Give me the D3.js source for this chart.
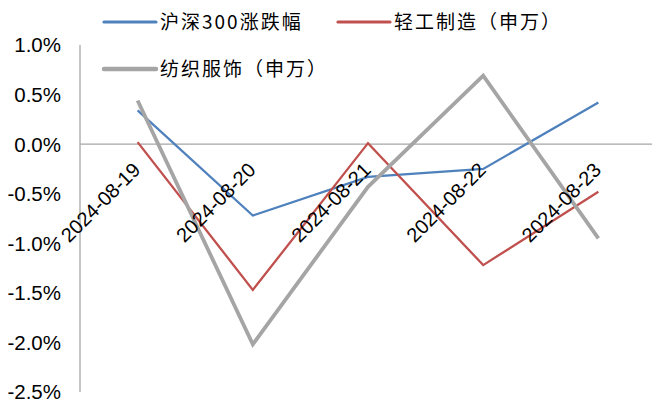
<!DOCTYPE html>
<html>
<head>
<meta charset="utf-8">
<script src="https://cdn.jsdelivr.net/npm/d3@7"></script>
<style>
  body { margin: 0; background: #fff; }
  svg { display: block; }
</style>
</head>
<body>
<script>
// data
var dates = ["2024-08-19", "2024-08-20", "2024-08-21", "2024-08-22", "2024-08-23"];
var hs300 = [0.34, -0.72, -0.33, -0.25, 0.42];
var qinggong = [0.02, -1.47, 0.01, -1.22, -0.48];
var fangzhi = [0.44, -2.02, -0.43, 0.69, -0.95];
var yTicks = [1.0, 0.5, 0.0, -0.5, -1.0, -1.5, -2.0, -2.5];

var series = [
  {name: "沪深300涨跌幅", values: hs300, color: "#4f81bd", width: 2.3},
  {name: "轻工制造（申万）", values: qinggong, color: "#c0504d", width: 2.3},
  {name: "纺织服饰（申万）", values: fangzhi, color: "#a5a5a5", width: 3.8}
];

var svg = d3.select("body").append("svg")
    .attr("width", 652)
    .attr("height", 405);

var x = d3.scaleBand().domain(dates).range([80, 656]);
var y = d3.scaleLinear().domain([-2.5, 1.0]).range([392, 45]);

// y axis line
svg.append("line")
    .attr("x1", 80).attr("x2", 80)
    .attr("y1", y(1.0)).attr("y2", y(-2.5))
    .style("stroke", "#a6a6a6").style("stroke-width", 1.3);

// y tick labels
svg.selectAll(".ytick").data(yTicks).enter().append("text")
    .attr("class", "ytick")
    .attr("x", 61)
    .attr("y", function(d) { return y(d); })
    .attr("dy", "0.36em")
    .style("text-anchor", "end")
    .style("font-family", "Liberation Sans, Arial, sans-serif")
    .style("font-size", "20.5px")
    .text(function(d) { return d.toFixed(1) + "%"; });

// x axis line at zero
svg.append("line")
    .attr("x1", 80).attr("x2", 652)
    .attr("y1", y(0)).attr("y2", y(0))
    .style("stroke", "#a6a6a6").style("stroke-width", 1.3);

// lines
var line = d3.line()
    .x(function(d, i) { return x(dates[i]) + x.bandwidth() / 2; })
    .y(function(d) { return y(d); });

series.forEach(function(s) {
  svg.append("path")
      .datum(s.values)
      .attr("d", line)
      .style("fill", "none")
      .style("stroke", s.color)
      .style("stroke-width", s.width)
      .style("stroke-linejoin", "miter");
});

// x labels, rotated
svg.selectAll(".xlab").data(dates).enter().append("text")
    .attr("class", "xlab")
    .attr("transform", function(d) {
      var cx = x(d) + x.bandwidth() / 2 + 4;
      return "translate(" + cx + "," + (y(0) + 27) + ") rotate(-45)";
    })
    .style("text-anchor", "end")
    .style("font-family", "Liberation Sans, Arial, sans-serif")
    .style("font-size", "20px")
    .text(function(d) { return d; });

// legend
var legendPos = [[104, 22], [338, 22], [104, 69]];
series.forEach(function(s, i) {
  var p = legendPos[i];
  svg.append("line")
      .attr("x1", p[0]).attr("x2", p[0] + 52)
      .attr("y1", p[1]).attr("y2", p[1])
      .style("stroke", s.color)
      .style("stroke-width", i == 2 ? 4.5 : 3.2)
      .style("stroke-linecap", "round");
  svg.append("text")
      .attr("x", p[0] + 56)
      .attr("y", p[1])
      .attr("dy", "0.36em")
      .style("font-family", "Noto Sans CJK SC, sans-serif")
      .style("font-size", "19px")
      .style("letter-spacing", "2px")
      .text(s.name);
});
</script>
</body>
</html>
